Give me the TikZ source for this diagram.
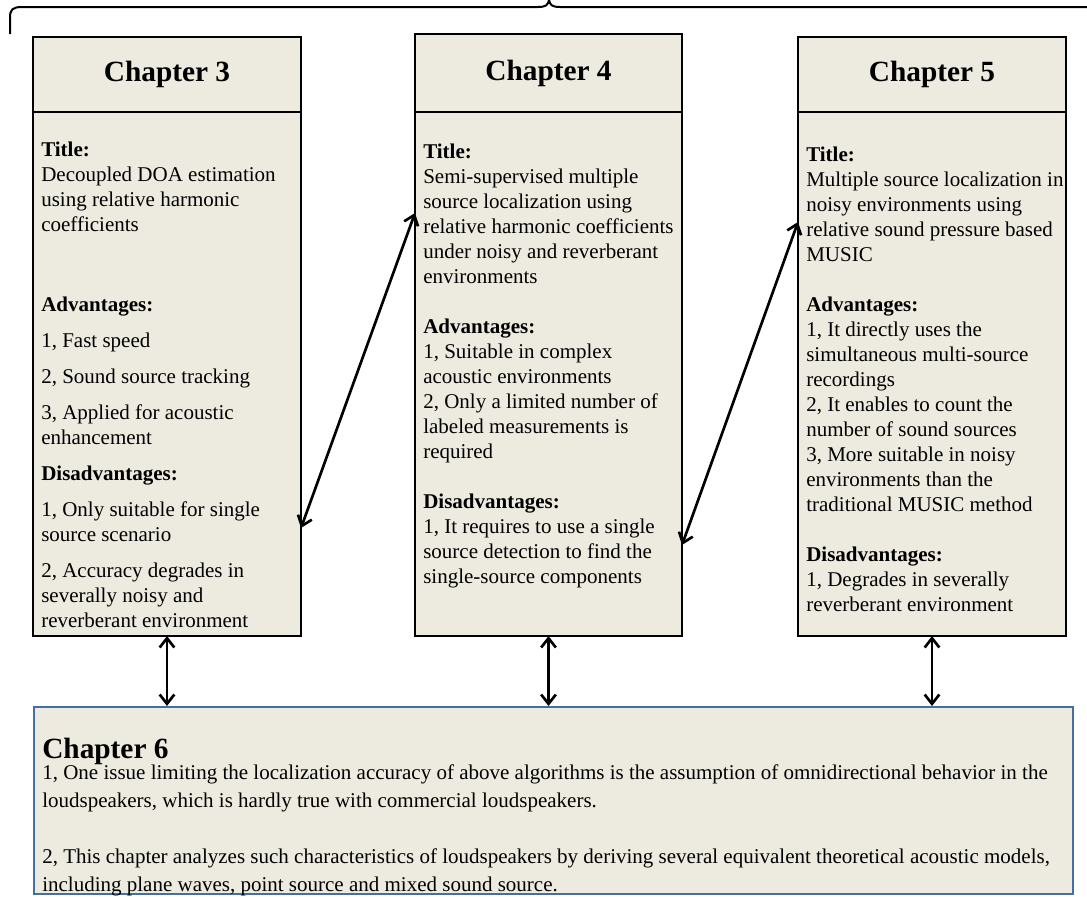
\documentclass[tikz,border=0pt]{standalone}
\usepackage{fontspec}
\setmainfont{Liberation Serif}
\usetikzlibrary{arrows.meta,positioning}

\definecolor{boxfill}{RGB}{237,235,224}
\definecolor{ch6line}{RGB}{68,111,160}

\begin{document}
\begin{tikzpicture}[
  x=0.75pt, y=-0.75pt,
  headbox/.style={draw, line width=1.5pt, fill=boxfill, anchor=north west,
                  inner sep=0pt, outer sep=0pt, minimum width=201pt, minimum height=56.25pt,
                  font=\fontsize{22}{26}\selectfont\bfseries},
  bodybox/.style={draw, line width=1.5pt, fill=boxfill, inner sep=0pt, outer sep=0pt,
                  minimum width=201pt, minimum height=393pt},
  bodytxt/.style={anchor=north west, align=left, inner sep=0pt,
                  font=\fontsize{15.75}{18.75}\selectfont},
  link/.style={line width=2pt,
               {Straight Barb[length=7pt,width=11pt]}-{Straight Barb[length=7pt,width=11pt]}}
]
\useasboundingbox (0,0) rectangle (1087,896);

% brace over the three chapters
\draw[line width=1.5pt] (10,34) -- (10,18) .. controls (10,10) and (12,7) .. (22,7)
  -- (538,7) .. controls (546,7) and (548,5) .. (549,0)
  .. controls (550,5) and (552,7) .. (560,7) -- (1095,7);

% chapter boxes
\node[headbox] (ch3h) at (33,37) {Chapter 3};
\node[bodybox, below=0pt of ch3h] (ch3b) {};
\node[headbox, minimum width=200.25pt, minimum height=58.5pt] (ch4h) at (415,34) {Chapter 4};
\node[bodybox, minimum width=200.25pt, below=0pt of ch4h] (ch4b) {};
\node[headbox] (ch5h) at (798,37) {Chapter 5};
\node[bodybox, below=0pt of ch5h] (ch5b) {};
\node[draw=ch6line, line width=1.4pt, fill=boxfill, anchor=north west, inner sep=0pt,
      minimum width=779.25pt, minimum height=140.25pt] (ch6) at (33,706) {};

\node[bodytxt] (ch3t) at ([xshift=6pt,yshift=-22.5pt]ch3b.north west) {\textbf{Title:}\\
Decoupled DOA estimation\\
using relative harmonic\\
coefficients\\[41.25pt]
\textbf{Advantages:}\\[8.25pt]
1, Fast speed\\[8.25pt]
2, Sound source tracking\\[8.25pt]
3, Applied for acoustic\\
enhancement\\[8.25pt]
\textbf{Disadvantages:}\\[8.25pt]
1, Only suitable for single\\
source scenario\\[8.25pt]
2, Accuracy degrades in\\
severally noisy and\\
reverberant environment};

\node[bodytxt] (ch4t) at ([xshift=6pt,yshift=-24pt]ch4b.north west) {\textbf{Title:}\\
Semi-supervised multiple\\
source localization using\\
relative harmonic coefficients\\
under noisy and reverberant\\
environments\\[18.75pt]
\textbf{Advantages:}\\
1, Suitable in complex\\
acoustic environments\\
2, Only a limited number of\\
labeled measurements is\\
required\\[18.75pt]
\textbf{Disadvantages:}\\
1, It requires to use a single\\
source detection to find the\\
single-source components};

\node[bodytxt] (ch5t) at ([xshift=6pt,yshift=-26.25pt]ch5b.north west) {\textbf{Title:}\\
Multiple source localization in\\
noisy environments using\\
relative sound pressure based\\
MUSIC\\[18.75pt]
\textbf{Advantages:}\\
1, It directly uses the\\
simultaneous multi-source\\
recordings\\
2, It enables to count the\\
number of sound sources\\
3, More suitable in noisy\\
environments than the\\
traditional MUSIC method\\[18.75pt]
\textbf{Disadvantages:}\\
1, Degrades in severally\\
reverberant environment};

\node[bodytxt, font=\fontsize{22}{26}\selectfont\bfseries] (ch6h)
  at ([xshift=6.75pt,yshift=-24pt]ch6.north west) {Chapter 6};
\node[bodytxt, font=\fontsize{15.75}{21}\selectfont] (ch6t)
  at ([xshift=6.75pt,yshift=-43.5pt]ch6.north west) {1, One issue limiting the localization accuracy of above algorithms is the assumption of omnidirectional behavior in the\\
loudspeakers, which is hardly true with commercial loudspeakers.\\[21pt]
2, This chapter analyzes such characteristics of loudspeakers by deriving several equivalent theoretical acoustic models,\\
including plane waves, point source and mixed sound source.};

% links between chapters
\draw[link] ([yshift=81pt]ch3b.south east) -- ([yshift=-75.75pt]ch4b.north west);
\draw[link] ([yshift=68.25pt]ch4b.south east) -- ([yshift=-82.5pt]ch5b.north west);
\draw[link] (ch3b.south) -- (ch3b.south |- ch6.north);
\draw[link] (ch4b.south) -- (ch4b.south |- ch6.north);
\draw[link] (ch5b.south) -- (ch5b.south |- ch6.north);
\end{tikzpicture}
\end{document}
